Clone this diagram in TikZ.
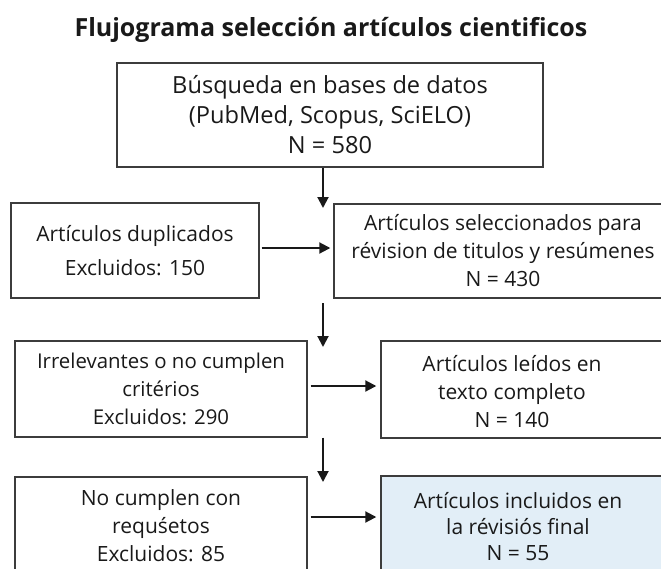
\documentclass[tikz,border=0pt]{standalone}
\usepackage{fontspec}
\setmainfont{Open Sans}
\usetikzlibrary{arrows.meta}
\definecolor{azulclaro}{RGB}{226,238,247}
\definecolor{borde}{RGB}{60,60,60}
\definecolor{tinta}{RGB}{25,25,25}

\begin{document}
\begin{tikzpicture}[x=1pt,y=-1pt,
  caja/.style={shape=rectangle, draw=borde, line width=1.4pt, inner sep=0pt, align=center, text=tinta, font=\fontsize{21}{28}\selectfont},
  texto/.style={align=center, inner sep=0pt, text=tinta, font=\fontsize{21}{28}\selectfont},
  flecha/.style={-{Triangle[length=11pt,width=11pt]}, line width=2pt, draw=tinta}]

\useasboundingbox (0,0) rectangle (661,568);
\clip (0,0) rectangle (661,568);

\path (331,36) node (titulo) [anchor=base, text=tinta, font=\bfseries\fontsize{25}{30}\selectfont] {Flujograma selección artículos cientificos};

\path (330,115) node (busqueda) [caja, minimum width=426, minimum height=104, font=\fontsize{23.6}{30}\selectfont] {Búsqueda en bases de datos\\(PubMed, Scopus, SciELO)\\N = 580};
\path (135,250.5) node (duplicados) [caja, minimum width=248, minimum height=95, font=\fontsize{21}{34}\selectfont] {Artículos duplicados\\Excluidos: 150};
\path (503,251) node (seleccion) [caja, minimum width=338, minimum height=94] {Artículos seleccionados para\\révision de titulos y resúmenes\\N = 430};
\path (161,389) node (irrelevantes) [caja, minimum width=292, minimum height=96, font=\fontsize{20.4}{28}\selectfont] {Irrelevantes o no cumplen\\critérios\\Excluidos: 290};
\path (540,389.5) node (leidos) [caja, minimum width=318, minimum height=97] {};
\path (512,392) node (leidostexto) [texto] {Artículos leídos en\\texto completo\\N = 140};
\path (161,526) node (requisitos) [caja, minimum width=292, minimum height=98] {No cumplen con\\requśetos\\Excluidos: 85};
\path (540,525) node (incluidos) [caja, fill=azulclaro, minimum width=318, minimum height=98] {};
\path (518,527) node (incluidostexto) [texto, font=\fontsize{21}{26}\selectfont] {Artículos incluidos en\\la révisiós final\\N = 55};

% eje de las flechas verticales
\coordinate (e1) at (323,208);
\coordinate (e2) at (323,303);
\coordinate (e3) at (323,347);
\coordinate (e4) at (323,482);

\draw [flecha] (busqueda.south -| e1) to (e1);
\draw [flecha] (e2) to (e3);
\draw [flecha] (irrelevantes.south -| e4) to (e4);

\draw [flecha, shorten <=2pt, shorten >=3pt] ([yshift=2.5pt]duplicados.east) to ([yshift=2.5pt]duplicados.east -| seleccion.west);
\draw [flecha, shorten <=3pt, shorten >=4pt] ([yshift=3pt]irrelevantes.east) to ([yshift=3pt]irrelevantes.east -| leidos.west);
\draw [flecha, shorten <=3pt, shorten >=4pt] ([yshift=9pt]requisitos.east) to ([yshift=9pt]requisitos.east -| incluidos.west);

\end{tikzpicture}
\end{document}
